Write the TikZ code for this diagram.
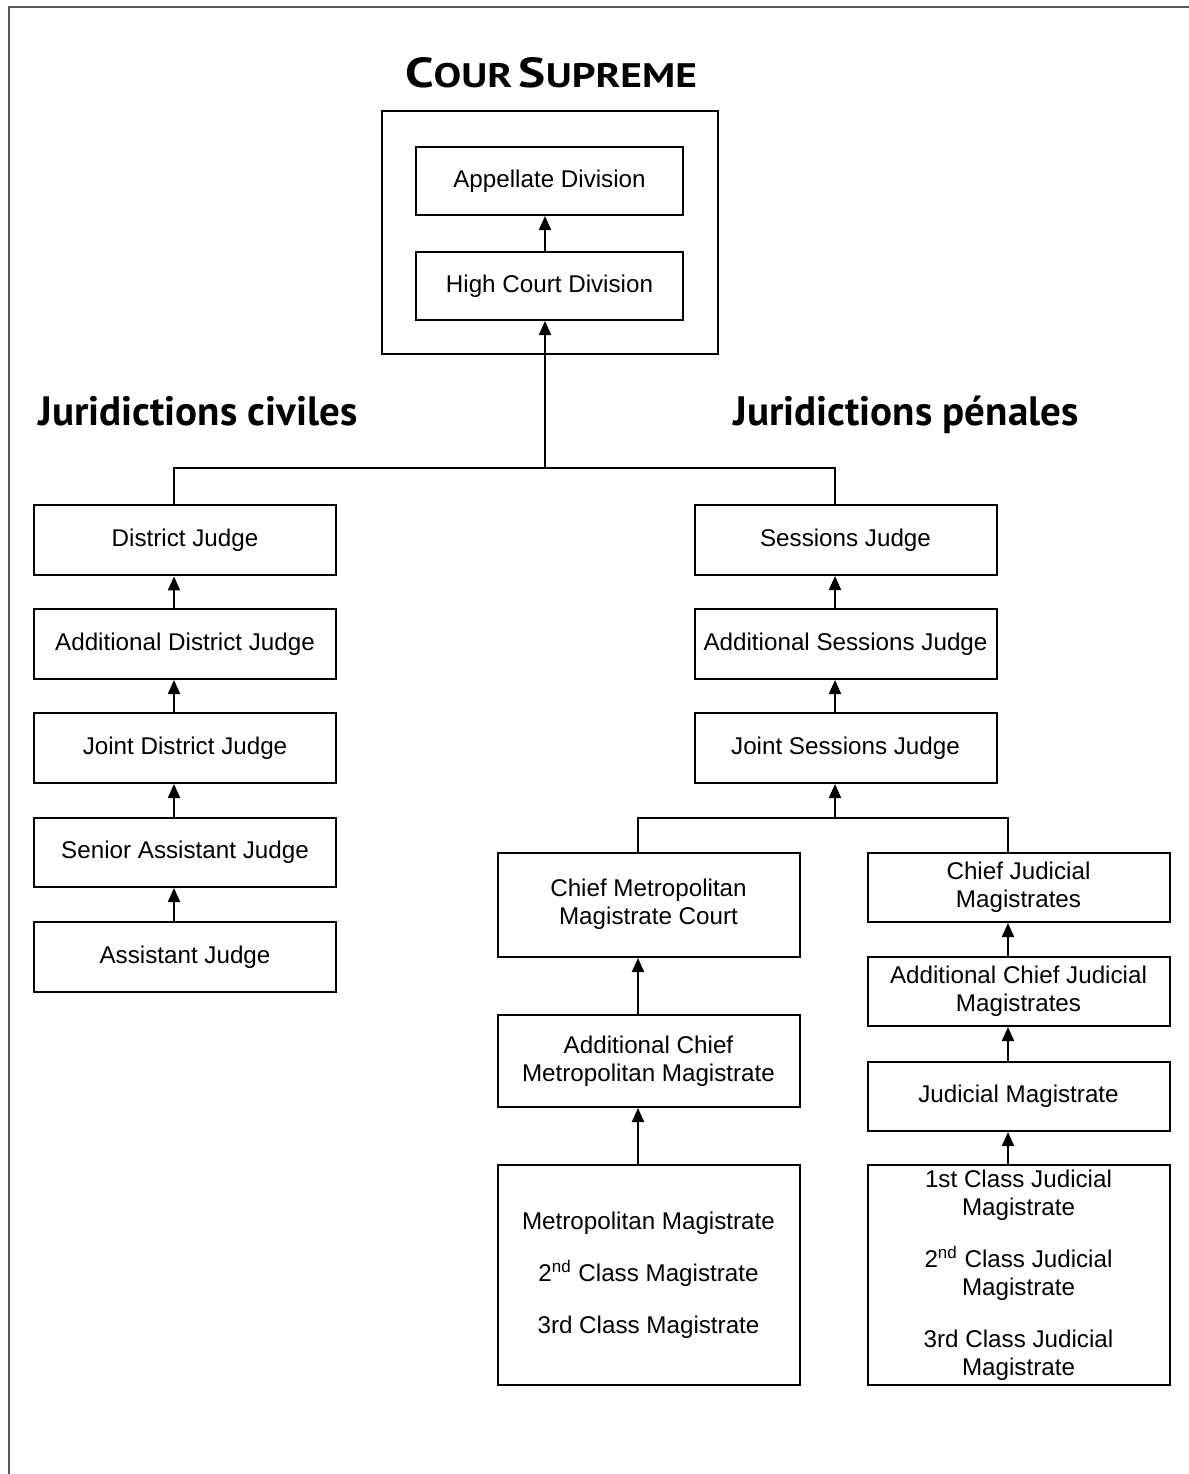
\documentclass[tikz,border=0pt]{standalone}
\usepackage{fontspec}
\setmainfont{Liberation Sans}
\newfontfamily\headfont{PT Sans}
\newfontfamily\titlefont[FakeStretch=1.22]{PT Sans}
\usetikzlibrary{arrows.meta}
\newcommand{\bigc}[1]{{\fontsize{21}{24}\selectfont #1}}
\newcommand{\smallc}[1]{{\fontsize{17}{20}\selectfont #1}}
\begin{document}
\begin{tikzpicture}[x=0.5pt,y=-0.5pt,
  box/.style={draw, line width=1pt, inner sep=0pt, align=center, font=\fontsize{12.1}{14}\selectfont},
  colL/.style={box, minimum width=151pt, minimum height=35pt},
  supbox/.style={box, minimum width=133.5pt, minimum height=34pt},
  arr/.style={line width=1pt, -{Triangle[width=6pt,length=7pt]}},
  conn/.style={line width=1pt, line join=miter},
  head/.style={font=\headfont\bfseries\fontsize{20.5}{24}\selectfont, inner sep=0pt}]
\useasboundingbox (0,0) rectangle (1189,1474);
\draw[line width=1pt, color=black!65] (9,1474) -- (9,7) -- (1189,7);

% title and headings
\node[inner sep=0pt, anchor=base, font=\titlefont\bfseries] (title) at (551,87) {\bigc{C}\smallc{OUR} \bigc{S}\smallc{UPREME}};
\node[head, anchor=base west] (hciv) at (38,425) {Juridictions civiles};
\node[head, anchor=base west] (hpen) at (733,425) {Juridictions pénales};

% supreme court
\node[draw, line width=1pt, minimum width=168pt, minimum height=121.5pt, inner sep=0pt] (sup) at (550,232.5) {};
\node[supbox] (ap) at (549.5,181) {Appellate Division};
\node[supbox] (hc) at (549.5,286) {High Court Division};

% civil column
\node[colL, line width=1.4pt] (dj) at (185,540) {District Judge};
\node[colL] (adj) at (185,644) {Additional District Judge};
\node[colL] (jdj) at (185,748) {Joint District Judge};
\node[colL, minimum height=34.5pt] (saj) at (185,852.5) {Senior Assistant Judge};
\node[colL] (aj) at (185,957) {Assistant Judge};

% penal column
\node[colL] (sj) at (845.5,540) {Sessions Judge};
\node[colL] (asj) at (845.5,644) {Additional Sessions Judge};
\node[colL] (jsj) at (845.5,748) {Joint Sessions Judge};

\node[colL, minimum height=52pt] (cmm) at (648.5,905) {Chief Metropolitan\\Magistrate Court\\[-11pt]\mbox{}};
\node[colL, minimum height=46pt] (acmm) at (648.5,1061) {Additional Chief\\Metropolitan Magistrate};
\node[colL, minimum height=110pt] (mm) at (648.5,1275) {Metropolitan Magistrate\\[12pt]2\textsuperscript{nd} Class Magistrate\\[12pt]3rd Class Magistrate};

\node[colL, minimum height=34.5pt] (cjm) at (1018.5,887.5) {Chief Judicial\\Magistrates};
\node[colL, minimum height=34.5pt] (acjm) at (1018.5,991.5) {Additional Chief Judicial\\Magistrates};
\node[colL, minimum height=34.5pt] (jm) at (1018.5,1096.5) {Judicial Magistrate};
\node[colL, minimum height=110pt] (cjb) at (1018.5,1275) {1st Class Judicial\\Magistrate\\[12pt]2\textsuperscript{nd} Class Judicial\\Magistrate\\[12pt]3rd Class Judicial\\Magistrate};

% connector x positions
\coordinate (xs) at (545,0);
\coordinate (cl) at (174,0);
\coordinate (cr) at (835,0);
\coordinate (cm) at (638,0);
\coordinate (cj) at (1008,0);
\coordinate (j1) at (545,468);
\coordinate (j2) at (835,818);

% supreme arrows
\draw[arr] (hc.north -| xs) -- (ap.south -| xs);
\draw[arr] (j1) -- (hc.south -| xs);
\draw[conn] (dj.north -| cl) |- (j1) -| (sj.north -| cr);

% civil arrows
\draw[arr] (adj.north -| cl) -- (dj.south -| cl);
\draw[arr] (jdj.north -| cl) -- (adj.south -| cl);
\draw[arr] (saj.north -| cl) -- (jdj.south -| cl);
\draw[arr] (aj.north -| cl) -- (saj.south -| cl);

% sessions arrows
\draw[arr] (asj.north -| cr) -- (sj.south -| cr);
\draw[arr] (jsj.north -| cr) -- (asj.south -| cr);
\draw[arr] (j2) -- (jsj.south -| cr);
\draw[conn] (cmm.north -| cm) |- (j2) -| (cjm.north -| cj);

% metropolitan arrows
\draw[arr] (acmm.north -| cm) -- (cmm.south -| cm);
\draw[arr] (mm.north -| cm) -- (acmm.south -| cm);

% judicial arrows
\draw[arr] (acjm.north -| cj) -- (cjm.south -| cj);
\draw[arr] (jm.north -| cj) -- (acjm.south -| cj);
\draw[arr] (cjb.north -| cj) -- (jm.south -| cj);
\end{tikzpicture}
\end{document}
